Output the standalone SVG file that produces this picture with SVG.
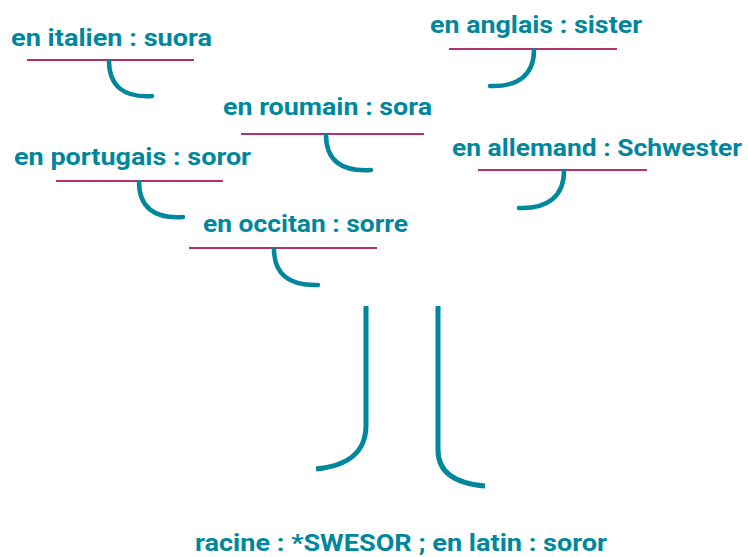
<svg xmlns="http://www.w3.org/2000/svg" width="748" height="557" viewBox="0 0 748 557">
<style>
.lbl{font-family:"Roboto","Liberation Sans",sans-serif;font-weight:bold;font-size:23px;fill:#00879e}
.ul{stroke:#b8306a;stroke-width:2.2;fill:none}
.hook{stroke:#00879e;stroke-width:4.5;fill:none;stroke-linecap:round}
.trunk{stroke:#00879e;stroke-width:5;fill:none}
</style>
<rect width="748" height="557" fill="#fff"/>
<g id="italien">
<text class="lbl" x="11" y="46" textLength="201" lengthAdjust="spacingAndGlyphs">en italien : suora</text>
<line class="ul" x1="27" y1="60" x2="194" y2="60"/>
</g>
<g id="anglais">
<text class="lbl" x="430" y="33" textLength="212" lengthAdjust="spacingAndGlyphs">en anglais : sister</text>
<line class="ul" x1="449" y1="49" x2="617" y2="49"/>
</g>
<g id="roumain">
<text class="lbl" x="223" y="115" textLength="209" lengthAdjust="spacingAndGlyphs">en roumain : sora</text>
<line class="ul" x1="241" y1="134" x2="424" y2="134"/>
</g>
<g id="portugais">
<text class="lbl" x="14" y="165" textLength="237" lengthAdjust="spacingAndGlyphs">en portugais : soror</text>
<line class="ul" x1="56" y1="181" x2="223" y2="181"/>
</g>
<g id="allemand">
<text class="lbl" x="452" y="156" textLength="290" lengthAdjust="spacingAndGlyphs">en allemand : Schwester</text>
<line class="ul" x1="478" y1="170" x2="647" y2="170"/>
</g>
<g id="occitan">
<text class="lbl" x="203" y="232" textLength="205" lengthAdjust="spacingAndGlyphs">en occitan : sorre</text>
<line class="ul" x1="189" y1="248" x2="377" y2="248"/>
</g>
<g id="racine">
<text class="lbl" x="195" y="551" textLength="412" lengthAdjust="spacingAndGlyphs">racine : *SWESOR ; en latin : soror</text>
</g>
<g id="connectors">
<path class="hook" d="M109,61 C109,86 124,98 152,96"/>
<path class="hook" d="M534,50 C534,75 518,87 490,86"/>
<path class="hook" d="M326,135 C326,160 341,172 371,170"/>
<path class="hook" d="M139,182 C139,207 154,219 183,217"/>
<path class="hook" d="M564,171 C564,196 548,209 519,208"/>
<path class="hook" d="M274,249 C274,274 289,286 318,285"/>
<path class="trunk" d="M366,306 L366,425 C366,455 345,466 316,469"/>
<path class="trunk" d="M438,306 L438,450 C438,475 460,484 485,486"/>
</g>
</svg>
